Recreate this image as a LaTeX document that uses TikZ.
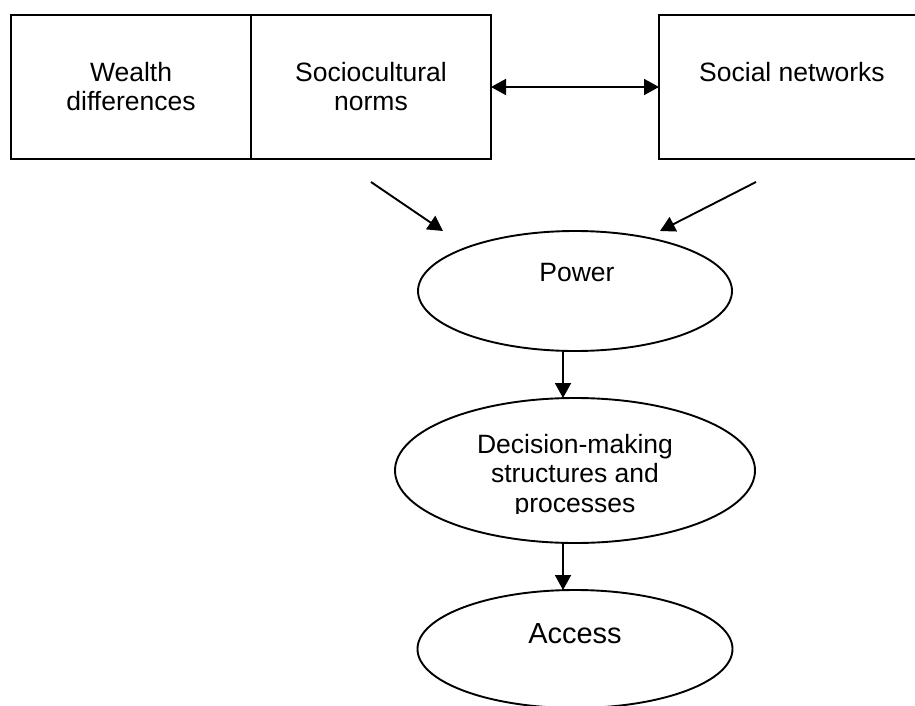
\documentclass[tikz,border=0pt]{standalone}
\usepackage{fontspec}
\setmainfont{Liberation Sans}
\usetikzlibrary{shapes.geometric,arrows.meta}
\begin{document}
\begin{tikzpicture}[x=1pt,y=-1pt,
  every node/.style={inner sep=0pt, outer sep=0pt},
  lbl/.style={font=\fontsize{26.5}{29.5}\selectfont, align=center},
  boxnode/.style={draw, line width=1.9pt, rectangle, minimum width=#1, minimum height=144},
  oval/.style={draw, line width=1.9pt, ellipse, minimum width=#1},
  arr/.style={line width=1.9pt, -{Triangle[length=15pt,width=16pt]}},
  biarr/.style={line width=1.9pt, {Triangle[length=15pt,width=16pt]}-{Triangle[length=15pt,width=16pt]}}
]
\clip (0,0) rectangle (915,706);

% top row of factors
\node[boxnode=240] (wd) at (131,87) {};
\node[boxnode=240] (sc) at (371,87) {};
\node[boxnode=262] (sn) at (790,87) {};
\node[lbl, anchor=base] (wdt) at (131,111) {Wealth\\differences};
\node[lbl, anchor=base] (sct) at (371,111) {Sociocultural\\norms};
\node[lbl, anchor=base] (snt) at (792,82) {Social networks};

% chain of outcomes
\node[oval=314, minimum height=120] (pw) at (575,291) {};
\node[lbl, anchor=base] (pwt) at (577,281) {Power};

\node[oval=360, minimum height=145] (dm) at (575,470.5) {};
\begin{scope}
  \clip (400,380) rectangle (750,513);
  \node[lbl, anchor=base] (dmt) at (575,512) {Decision-making\\structures and\\processes};
\end{scope}

\node[oval=315, minimum height=118] (ac) at (575,649) {};
\node[lbl, font=\fontsize{29}{32}\selectfont, anchor=base] (act) at (575,643) {Access};

% connectors
\draw[biarr] (sc.east) -- (sn.west);
\coordinate (inL) at (371,182);
\coordinate (tipL) at (443,231);
\coordinate (inR) at (756,182);
\coordinate (tipR) at (660,231);
\draw[arr] (inL) -- (tipL);
\draw[arr] (inR) -- (tipR);
\draw[arr] ([xshift=-12pt]pw.south) -- ([xshift=-12pt]dm.north);
\draw[arr] ([xshift=-12pt]dm.south) -- ([xshift=-12pt]ac.north);
\end{tikzpicture}
\end{document}
